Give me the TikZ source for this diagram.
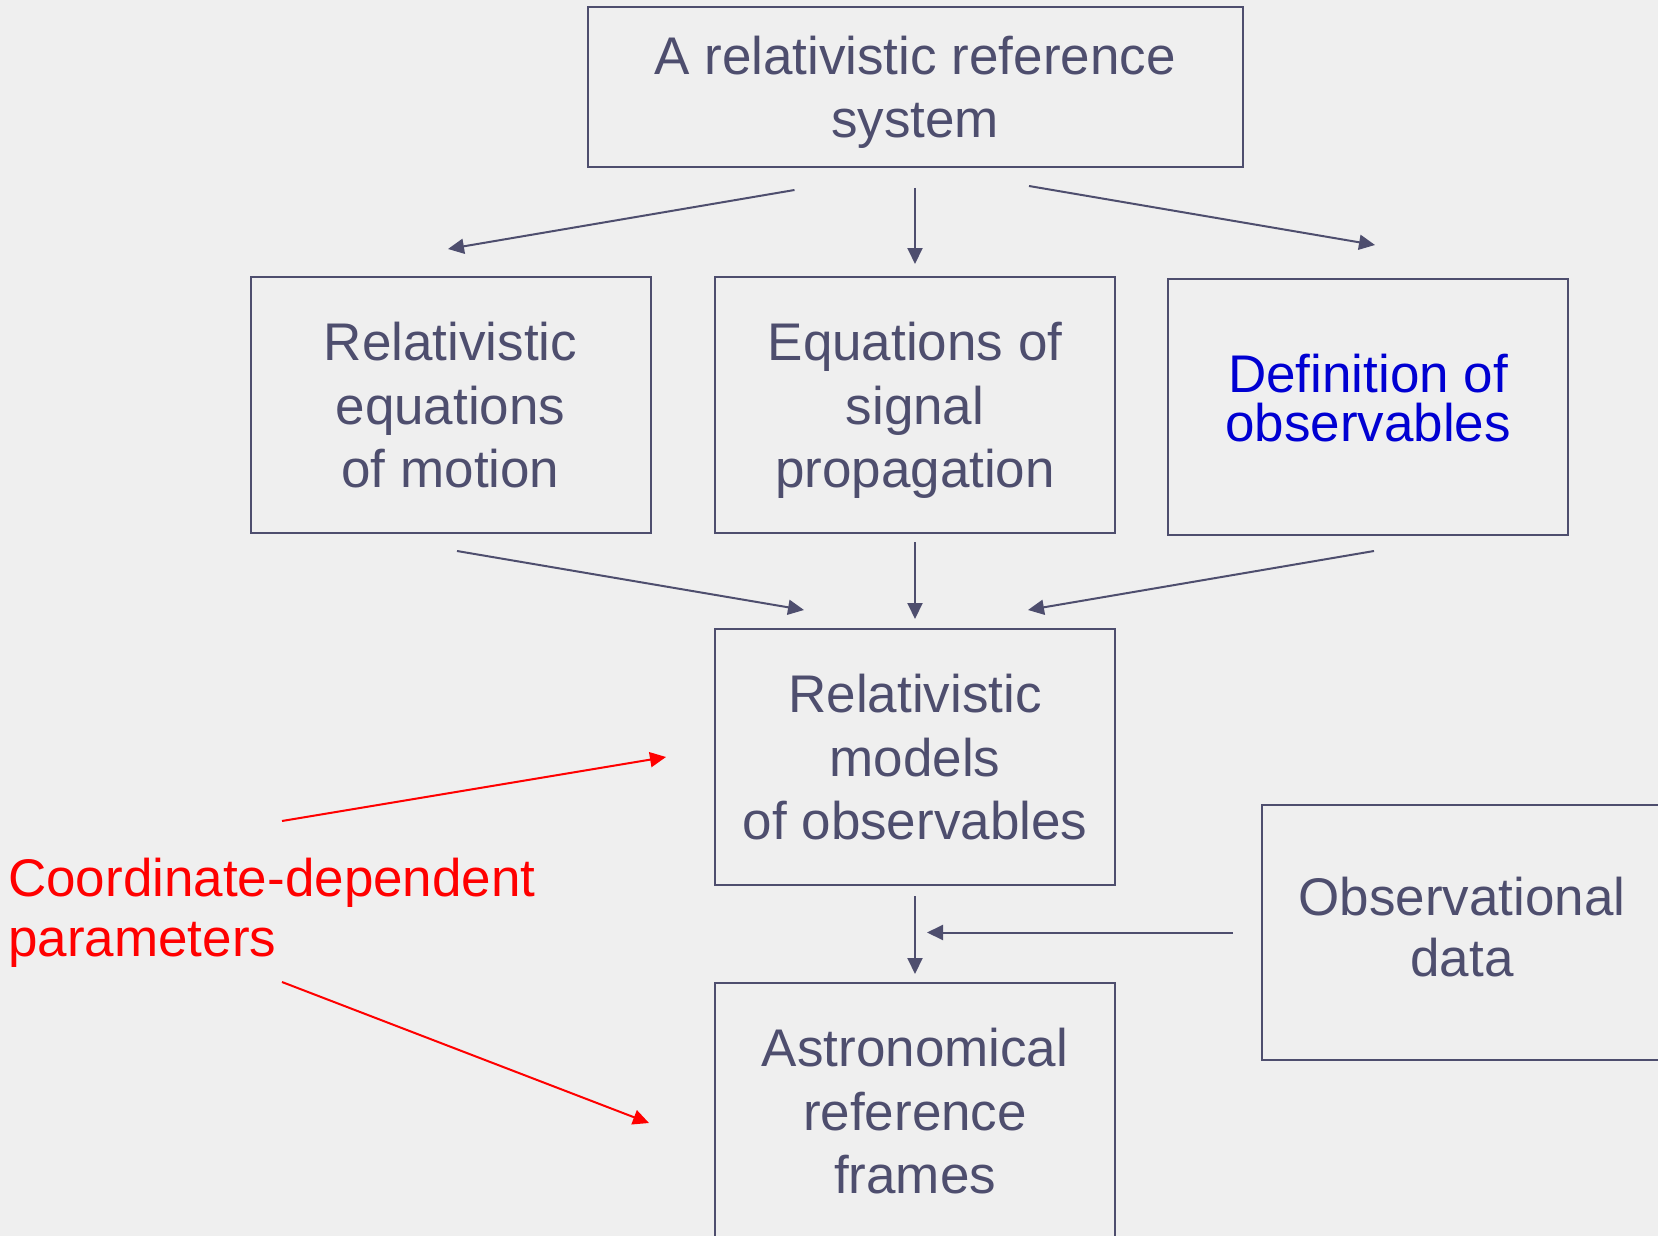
\documentclass[tikz,border=0pt]{standalone}
\usepackage{fontspec}
\setmainfont{Liberation Sans}
\usepackage{tikz}
\usetikzlibrary{arrows.meta}
\usetikzlibrary{positioning}

\definecolor{slate}{RGB}{78,78,110}
\definecolor{paper}{RGB}{239,239,239}
\definecolor{defblue}{RGB}{0,0,210}

\begin{document}
\begin{tikzpicture}[x=1pt,y=-1pt]
\tikzset{
    stage/.style={
              rectangle,
                   draw=slate,
                   line width=2pt,
                   text=slate,
                   align=center,
                   minimum width=400pt,
                   minimum height=256pt,
                   text depth=0pt,
                   font=\fontsize{53pt}{63.5pt}\selectfont
    },
    flow/.style={
              draw=slate,
                   line width=2pt,
                   -{Triangle[length=16pt,width=15pt]}
    },
    redflow/.style={
              draw=red,
                   line width=2pt,
                   -{Triangle[length=16pt,width=15pt]}
    }
}
    \useasboundingbox (0,0) rectangle (1658,1236);
    \fill[paper] (0,0) rectangle (1658,1236);
    \clip (0,0) rectangle (1658,1236);

    \node (sys)[stage, minimum width=655pt, minimum height=160pt] at (915,87) {A relativistic reference\\system};
    \node (eqm)[stage] at (450.5,405) {Relativistic\\equations\\of motion};
    \node (sig)[stage] at (915,405) {Equations of\\signal\\propagation};
    \node (def)[stage, text=defblue, text depth=18pt, font=\fontsize{53pt}{49pt}\selectfont] at (1368,407) {Definition of\\observables};
    \node (mod)[stage] at (915,757) {Relativistic\\models\\of observables};
    \node (frm)[stage] at (915,1111) {Astronomical\\reference\\frames};
    \node (obs)[stage, minimum height=255pt, text depth=11pt, font=\fontsize{53pt}{61pt}\selectfont] at (1462,932.5) {Observational\\data};
    \node (param)[anchor=west, text=red, align=left, inner sep=0pt, font=\fontsize{53pt}{60pt}\selectfont] at (8,913) {Coordinate-dependent\\parameters};

    \draw[flow] ([xshift=-120.5pt,yshift=-22pt]sys.south) -- ([xshift=-2.5pt,yshift=27pt]eqm.north);
    \draw[flow] ([yshift=-20pt]sys.south) -- ([yshift=12pt]sig.north);
    \draw[flow] ([xshift=114pt,yshift=-18pt]sys.south) -- ([xshift=7pt,yshift=33pt]def.north);
    \draw[flow] ([xshift=6.5pt,yshift=-17pt]eqm.south) -- ([xshift=-111pt,yshift=18pt]mod.north);
    \draw[flow] ([yshift=-8pt]sig.south) -- ([yshift=9pt]mod.north);
    \draw[flow] ([xshift=6pt,yshift=-15pt]def.south) -- ([xshift=113pt,yshift=18pt]mod.north);
    \draw[flow] ([yshift=-10pt]mod.south) -- ([yshift=8pt]frm.north);
    \draw[flow] ([xshift=-28pt]obs.west) -- ([xshift=12pt]obs.west -| mod.south);

    \draw[redflow] ([xshift=274pt,yshift=92pt]param.west) -- ([xshift=-48pt]mod.west);
    \draw[redflow] ([xshift=274pt,yshift=-69pt]param.west) -- ([xshift=-65pt,yshift=-12pt]frm.west);

\end{tikzpicture}
\end{document}
